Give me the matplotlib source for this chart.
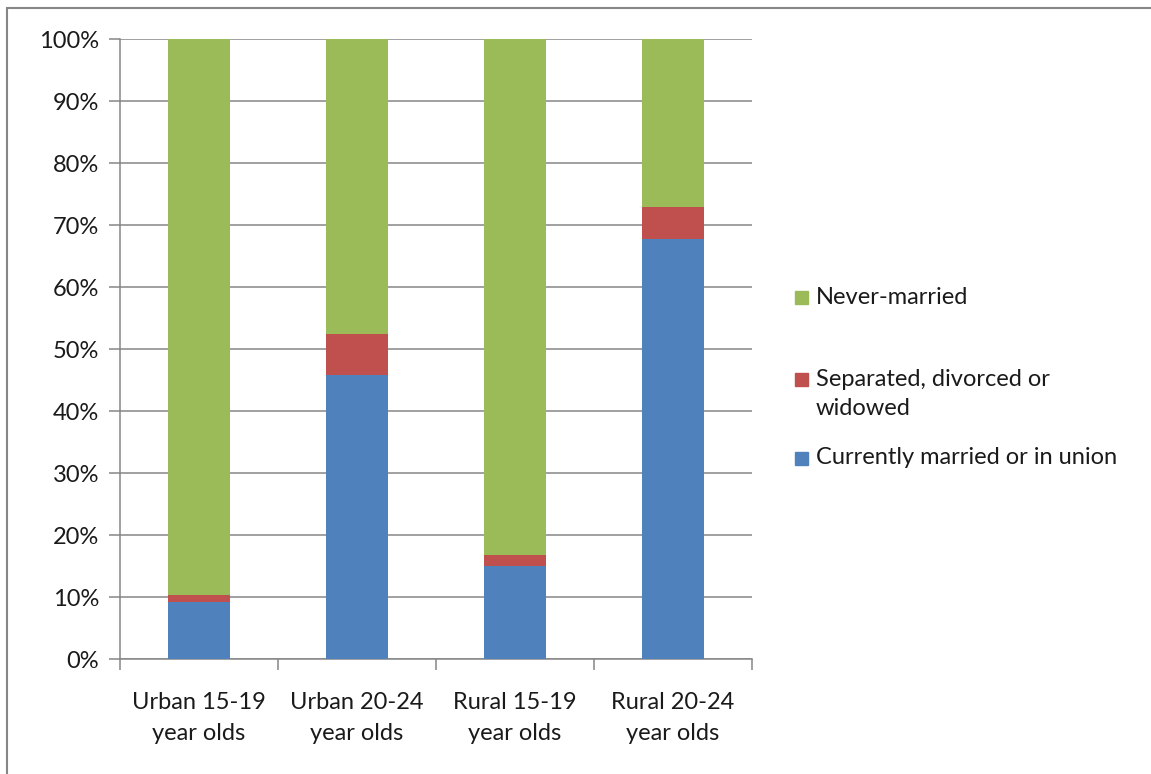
import matplotlib.pyplot as plt
import matplotlib.patches as mpatches
import numpy as np

# Datos (porcentajes)
categorias = ['Urban 15-19\nyear olds', 'Urban 20-24\nyear olds', 'Rural 15-19\nyear olds', 'Rural 20-24\nyear olds']
casados = [9.2, 45.8, 15.0, 67.7]
separados = [1.2, 6.7, 1.7, 5.2]
nunca = [100 - c - s for c, s in zip(casados, separados)]

series = ['Currently married or in union', 'Separated, divorced or\nwidowed', 'Never-married']
colores = ['#4F81BD', '#C0504D', '#9BBB59']

plt.rcParams['font.family'] = ['Lato', 'DejaVu Sans']
GRIS = '#868686'
TEXTO = '#1a1a1a'
TAM = 17

fig = plt.figure(figsize=(11.51, 7.74), dpi=100)
ax = fig.add_axes([120 / 1151, 1 - 659 / 774, 632 / 1151, 620 / 774])

x = np.arange(len(categorias))
ancho = 0.39
abajo = np.zeros(len(x))
for valores, color in zip([casados, separados, nunca], colores):
    ax.bar(x, valores, ancho, bottom=abajo, color=color, zorder=3)
    abajo += np.array(valores)

ax.set_xlim(-0.5, 3.5)
ax.set_ylim(0, 100)
ax.set_yticks(np.arange(0, 101, 10))
ax.set_yticklabels([f'{v}%' for v in range(0, 101, 10)], fontsize=TAM, color=TEXTO)
ax.yaxis.grid(True, color=GRIS, linewidth=1.1, zorder=0)
ax.tick_params(axis='y', length=8, color=GRIS, width=1.1, pad=7)

# marcas entre categorías en el eje x
ax.set_xticks([-0.5, 0.5, 1.5, 2.5, 3.5])
ax.set_xticklabels([])
ax.tick_params(axis='x', length=8, color=GRIS, width=1.1)
for i, etiqueta in enumerate(categorias):
    ax.text(i, -9.5, etiqueta, ha='center', va='center', fontsize=TAM, color=TEXTO,
            linespacing=1.6, transform=ax.transData)

for lado in ['top', 'right']:
    ax.spines[lado].set_visible(False)
for lado in ['left', 'bottom']:
    ax.spines[lado].set_color(GRIS)
    ax.spines[lado].set_linewidth(1.1)

# leyenda manual (posiciones como en el original)
leyenda = [('Never-married', colores[2], 297),
           ('Separated, divorced or\nwidowed', colores[1], 394),
           ('Currently married or in union', colores[0], 458)]
for texto, color, yc in leyenda:
    n_lineas = texto.count('\n') + 1
    y_primera = yc - (n_lineas - 1) * 31 / 2
    fig.patches.append(mpatches.Rectangle((795 / 1151, 1 - (y_primera + 7) / 774), 13 / 1151, 13 / 774,
                                          transform=fig.transFigure, color=color))
    fig.text(816 / 1151, 1 - yc / 774, texto, ha='left', va='center', fontsize=TAM,
             color=TEXTO, linespacing=1.5)

# borde del área del gráfico
fig.patches.append(mpatches.Rectangle((7.5 / 1151, -0.1), 1.2, 1.1 - 8 / 774, transform=fig.transFigure,
                                      fill=False, edgecolor=GRIS, linewidth=1.5))

fig.savefig('out.png', dpi=100)
